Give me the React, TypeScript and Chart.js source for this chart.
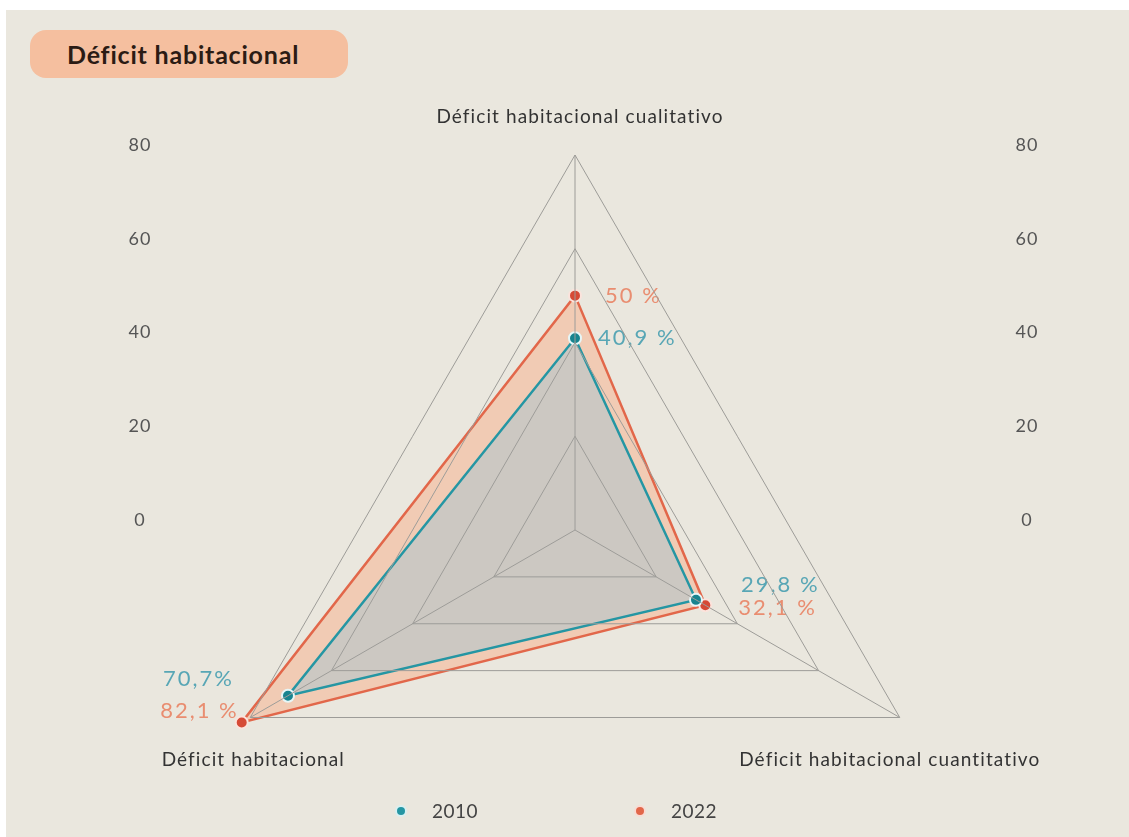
import React, { useEffect, useRef } from "react";
import { Chart, registerables } from "chart.js";

Chart.register(...registerables);

const categories = [
  "Déficit habitacional cualitativo",
  "Déficit habitacional cuantitativo",
  "Déficit habitacional",
];
const values2010 = [40.9, 29.8, 70.7];
const values2022 = [50, 32.1, 82.1];
const valueLabels2010 = ["40,9 %", "29,8 %", "70,7%"];
const valueLabels2022 = ["50 %", "32,1 %", "82,1 %"];
const tickValues = [0, 20, 40, 60, 80];
const seriesNames = ["2010", "2022"];

const TEAL = "#2596a3";
const TEAL_TEXT = "#58a6b5";
const ORANGE = "#e2674a";
const ORANGE_TEXT = "#e98d70";
const FONT = "Lato, 'Noto Sans', sans-serif";

const overlayPlugin = {
  id: "overlay",
  afterDatasetsDraw(chart: any) {
    const ctx = chart.ctx;
    const s = chart.scales.r;
    ctx.save();
    // side tick labels
    ctx.font = `18px ${FONT}`;
    (ctx as any).letterSpacing = "1px";
    ctx.fillStyle = "#555";
    ctx.textAlign = "center";
    ctx.textBaseline = "middle";
    tickValues.forEach((v) => {
      const y = s.yCenter - s.getDistanceFromCenterForValue(v) - 10;
      ctx.fillText(String(v), 140, y);
      ctx.fillText(String(v), 1027, y);
    });
    // axis labels
    ctx.font = `19px ${FONT}`;
    (ctx as any).letterSpacing = "1.1px";
    ctx.fillStyle = "#333";
    const offs = [
      [5, -38],
      [-10, 42],
      [3, 42],
    ];
    categories.forEach((c, i) => {
      const p = s.getPointPosition(i, s.drawingArea);
      ctx.fillText(c, p.x + offs[i][0], p.y + offs[i][1]);
    });
    // value labels
    ctx.font = `22px ${FONT}`;
    (ctx as any).letterSpacing = "2px";
    const m0 = chart.getDatasetMeta(0).data;
    const m1 = chart.getDatasetMeta(1).data;
    const o2010 = [
      [23, 0, "left"],
      [45, -15, "left"],
      [-54, -17, "right"],
    ];
    const o2022 = [
      [30, 0, "left"],
      [33, 3, "left"],
      [-3, -12, "right"],
    ];
    ctx.fillStyle = TEAL_TEXT;
    valueLabels2010.forEach((t, i) => {
      const o: any = o2010[i];
      ctx.textAlign = o[2];
      ctx.fillText(t, m0[i].x + o[0], m0[i].y + o[1]);
    });
    ctx.fillStyle = ORANGE_TEXT;
    valueLabels2022.forEach((t, i) => {
      const o: any = o2022[i];
      ctx.textAlign = o[2];
      ctx.fillText(t, m1[i].x + o[0], m1[i].y + o[1]);
    });
    ctx.restore();
  },
};

export default function App() {
  const ref = useRef<HTMLCanvasElement>(null);
  useEffect(() => {
    if (!ref.current) return;
    const chart = new Chart(ref.current, {
      type: "radar",
      data: {
        labels: categories,
        datasets: [
          {
            label: seriesNames[0],
            data: values2010,
            borderColor: TEAL,
            backgroundColor: "rgba(200,199,195,0.92)",
            borderWidth: 2.5,
            fill: true,
            pointRadius: 6,
            pointBorderWidth: 2,
            pointBackgroundColor: "#17848f",
            pointBorderColor: "#e6f6f7",
          },
          {
            label: seriesNames[1],
            data: values2022,
            borderColor: ORANGE,
            backgroundColor: "rgba(246,180,146,0.55)",
            borderWidth: 2.5,
            fill: true,
            pointRadius: 6,
            pointBorderWidth: 2,
            pointBackgroundColor: "#d64a36",
            pointBorderColor: "#fbe3dc",
          },
        ],
      },
      options: {
        animation: false,
        responsive: false,
        devicePixelRatio: 1,
        layout: { padding: { top: 155, bottom: 95, left: 200, right: 179 } },
        plugins: {
          legend: { display: false },
          tooltip: { enabled: false },
        },
        elements: { line: { tension: 0 } },
        scales: {
          r: {
            min: 0,
            max: 80,
            ticks: { display: false, stepSize: 20 },
            pointLabels: { display: false },
            grid: { color: "#9d9c98", lineWidth: 1, z: 1 },
            angleLines: { color: "#9d9c98", lineWidth: 1 },
          },
        },
      },
      plugins: [overlayPlugin],
    });
    return () => chart.destroy();
  }, []);

  const legendItem = (name: string, color: string, halo: string, x: number) => (
    <div
      style={{
        position: "absolute",
        left: x,
        top: 799,
        display: "flex",
        alignItems: "center",
        fontFamily: FONT,
        fontSize: 19,
        letterSpacing: 0.5,
        color: "#444",
      }}
    >
      <span
        style={{
          display: "inline-block",
          width: 8,
          height: 8,
          borderRadius: "50%",
          background: color,
          boxShadow: `0 0 0 2px ${halo}`,
          marginRight: 27,
        }}
      />
      {name}
    </div>
  );

  return (
    <div style={{ position: "fixed", inset: 0, background: "#fff", overflow: "hidden" }}>
      <div style={{ position: "absolute", left: 6, top: 10, right: 0, bottom: 0, background: "#eae7de" }} />
      <canvas ref={ref} width={1129} height={1000} style={{ position: "absolute", left: 0, top: 0 }} />
      <div
        style={{
          position: "absolute",
          left: 30,
          top: 30,
          width: 318,
          height: 48,
          borderRadius: 16,
          background: "#f5bf9f",
          display: "flex",
          alignItems: "center",
          paddingLeft: 37,
          boxSizing: "border-box",
          fontFamily: FONT,
          fontWeight: 700,
          fontSize: 25,
          letterSpacing: 0.8,
          color: "#2b1b14",
        }}
      >
        Déficit habitacional
      </div>
      {legendItem(seriesNames[0], TEAL, "#d8f0f2", 397)}
      {legendItem(seriesNames[1], ORANGE, "#f8dcd4", 636)}
    </div>
  );
}
